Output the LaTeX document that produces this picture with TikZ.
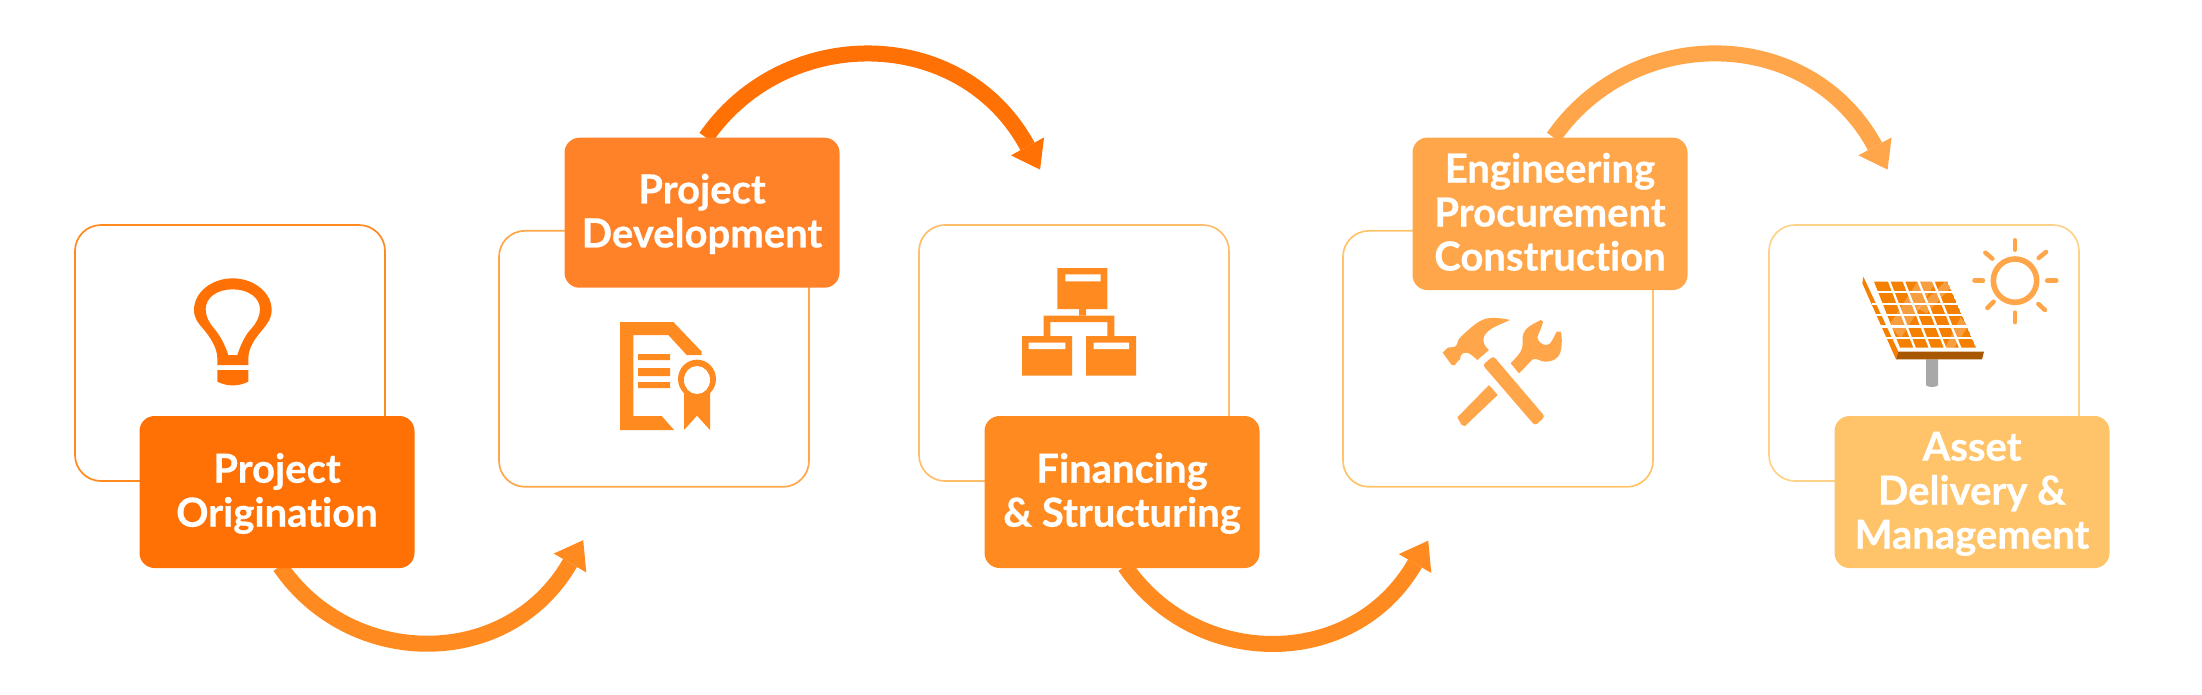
\documentclass[tikz,border=0pt]{standalone}
\usepackage{fontspec}
\setmainfont{Lato}[Ligatures=NoCommon,BoldFeatures={FakeBold=0.6}]
\usetikzlibrary{arrows.meta,backgrounds}
\definecolor{cA}{HTML}{FF7105}
\definecolor{cB}{HTML}{FF8229}
\definecolor{cC}{HTML}{FF8A1F}
\definecolor{cD}{HTML}{FFA64A}
\definecolor{cE}{HTML}{FFC469}
\definecolor{oB}{HTML}{FFA64A}
\definecolor{oC}{HTML}{FFBE6E}
\definecolor{oD}{HTML}{FFC469}
\definecolor{oE}{HTML}{FFD28A}
\definecolor{cell}{HTML}{F58000}
\definecolor{brown}{HTML}{A85800}
\definecolor{post}{HTML}{A8A8A8}
\newcommand{\ls}{\rule[-9.3pt]{0pt}{44pt}}
\tikzset{
  lab/.style={fill=#1,text=white,rounded corners=15pt,inner sep=0pt,minimum width=275pt,minimum height=152pt,align=center,font=\fontsize{40}{44}\selectfont\bfseries},
  outl/.style={draw=#1,line width=1.7pt,rounded corners=26pt,inner sep=0pt,minimum width=310pt,minimum height=256pt},
  conn/.style={draw=#1,line width=16pt,shorten >=-26.4pt,-{Triangle[length=26.4pt,width=37.6pt,line width=0pt]}},
  icon/.style={shift={(#1)},x=0.33333pt,y=-0.33333pt}
}
\begin{document}
\begin{tikzpicture}[x=1pt,y=-1pt]
\useasboundingbox (0,0) rectangle (2202,694);
% labels
\node[lab=cA] (lab1) at (277,492) {\ls Project\\\ls Origination};
\node[lab=cB,minimum height=150pt] (lab2) at (702,212.7) {\ls Project\\\ls Development};
\node[lab=cC] (lab3) at (1122,492) {\ls Financing\\\ls \& Structuring};
\node[lab=cD,minimum height=152.5pt] (lab4) at (1550,213.8) {\ls Engineering\\\ls Procurement\\\ls Construction};
\node[lab=cE] (lab5) at (1972,492) {\ls Asset\\\ls Delivery \&\\\ls Management};
\coordinate (tip1) at (570,563);
\coordinate (tip2) at (1027.5,146.4);
\coordinate (tip3) at (1415,563.5);
\coordinate (tip4) at (1875,146.4);
\begin{scope}[on background layer]
\node[outl=cC] (box1) at (230,353) {};
\node[outl=oB] (box2) at (654,358.8) {};
\node[outl=oC] (box3) at (1074,353) {};
\node[outl=oD] (box4) at (1498,358.8) {};
\node[outl=oE] (box5) at (1924,353) {};
\draw[conn=cC] ([xshift=3pt,yshift=2pt]lab1.south) .. controls +(70.3,103) and +(-62.5,108) .. (tip1);
\draw[conn=cA] ([xshift=4pt]lab2.north) .. controls +(78.8,-113.9) and +(-66,-122) .. (tip2);
\draw[conn=cC] ([xshift=3pt,yshift=2pt]lab3.south) .. controls +(70.3,103) and +(-62.5,108) .. (tip3);
\draw[conn=cD] ([xshift=3.5pt]lab4.north) .. controls +(78.8,-113.9) and +(-66,-122) .. (tip4);
\end{scope}
% bulb
\begin{scope}[icon={170,260}]
\fill[cA,even odd rule] (142,315) -- (142,295) .. controls (142,262) and (118,228) .. (100,207) .. controls (85,190) and (72,175) .. (72,150) .. controls (72,97) and (125,55) .. (188,55) .. controls (251,55) and (305,97) .. (305,150) .. controls (305,175) and (290,195) .. (275,212) .. controls (258,232) and (235,262) .. (235,295) -- (235,315) -- cycle
(175,285) .. controls (165,255) and (150,225) .. (130,203) .. controls (118,188) and (107,170) .. (107,148) .. controls (107,112) and (142,88) .. (188,88) .. controls (234,88) and (270,112) .. (270,148) .. controls (270,170) and (258,190) .. (245,205) .. controls (225,225) and (212,255) .. (202,285) -- cycle;
\fill[cA] (142,330) -- (235,330) -- (235,365) .. controls (205,380) and (172,380) .. (142,365) -- cycle;
\end{scope}
% certificate
\begin{scope}[icon={600,310}]
\fill[cC] (60,36) -- (220,36) -- (305,125) -- (305,135) -- (260,135) -- (205,75) -- (100,75) -- (100,318) -- (185,318) -- (222,360) -- (60,360) -- cycle;
\fill[cC] (114,132) rectangle (210,150) (114,174) rectangle (210,198) (114,216) rectangle (210,234);
\fill[cC] (252,240) -- (252,360) -- (291,317) -- (330,360) -- (330,240) -- cycle;
\fill[cC] (291,207) ellipse [x radius=57,y radius=58];
\fill[white] (291,210) ellipse [x radius=39,y radius=42];
\end{scope}
% org chart
\begin{scope}[icon={1000,255}]
\fill[cC] (172,39) rectangle (322,162) (237,162) rectangle (258,182) (66,243) rectangle (216,362) (258,243) rectangle (408,362);
\fill[cC,even odd rule] (131,243) -- (131,182) -- (343,182) -- (343,243) -- (322,243) -- (322,201) -- (151,201) -- (151,243) -- cycle;
\fill[white] (196,58) rectangle (302,79) (86,263) rectangle (196,282) (281,263) rectangle (387,282);
\end{scope}
% hammer and wrench
\begin{scope}[icon={1420,300}]
\fill[cD,rounded corners=3pt] (188,195) -- (220,168) -- (375,350) -- (345,377) -- cycle;
\fill[cD] (68,158) -- (83,143) .. controls (90,140) and (105,145) .. (110,135) .. controls (112,125) and (115,118) .. (125,108) .. controls (150,85) and (180,55) .. (210,54) .. controls (235,53) and (255,56) .. (270,60) .. controls (230,78) and (190,90) .. (190,122) .. controls (192,135) and (200,145) .. (207,150) -- (172,180) .. controls (160,170) and (150,158) .. (138,158) .. controls (125,158) and (122,165) .. (120,178) .. controls (115,185) and (108,185) .. (105,195) -- (95,195) -- cycle;
\fill[cD] (272,190) .. controls (290,170) and (310,155) .. (308,125) .. controls (303,85) and (335,75) .. (362,60) -- (369,65) .. controls (365,85) and (355,100) .. (352,112) .. controls (355,125) and (365,135) .. (380,135) .. controls (395,135) and (403,105) .. (410,95) -- (422,95) .. controls (428,115) and (425,145) .. (420,160) .. controls (410,180) and (395,185) .. (375,185) .. controls (360,185) and (350,172) .. (338,178) .. controls (325,190) and (310,208) .. (297,220) -- cycle;
\fill[cD] (207,255) -- (233,285) -- (135,378) -- (125,375) -- (112,352) -- cycle;
\end{scope}
% solar panel and sun
\begin{scope}[icon={1830,230}]
\fill[post] (288,388) -- (324,388) -- (324,466) .. controls (312,473) and (300,473) .. (288,466) -- cycle;
\fill[cell] (100,140) -- (205,365) -- (198,388) -- (97,160) -- cycle;
\fill[brown] (205,365) -- (462,365) -- (456,388) -- (198,388) -- cycle;
\begin{scope}
\clip (132,155) -- (352,155) -- (438,353) -- (210,353) -- cycle;
\fill[cell] (132,155) -- (352,155) -- (438,353) -- (210,353) -- cycle;
\fill[white,opacity=0.25] (262,155) -- (318,155) -- (212,325) -- (178,285) -- cycle;
\fill[white,opacity=0.25] (345,155) -- (365,170) -- (290,250) -- (262,235) -- cycle;
\fill[white,opacity=0.25] (392,262) -- (412,292) -- (372,353) -- (345,353) -- cycle;
\end{scope}
\foreach \yy in {186.5,221,255,289.5,323.5}
  \draw[white,line width=2.3pt] (125,\yy) -- (445,\yy);
\foreach \i in {1,2,3,4}
  \draw[white,line width=2.3pt] ({132+44*\i},150) -- ({210+45.6*\i},358);
\draw[cD,line width=5.6pt] (555,152) circle [radius=65];
\draw[cD,line width=4pt,line cap=round] (555,30) -- (555,60) (555,247) -- (555,277);
\draw[cD,line width=5pt,line cap=round] (434,152) -- (458,152) (652,152) -- (678,152);
\draw[cD,line width=4.5pt,line cap=round] (466,68) -- (487,86) (648,66) -- (626,84) (472,234) -- (491,215) (625,222) -- (645,240);
\end{scope}
\end{tikzpicture}
\end{document}
